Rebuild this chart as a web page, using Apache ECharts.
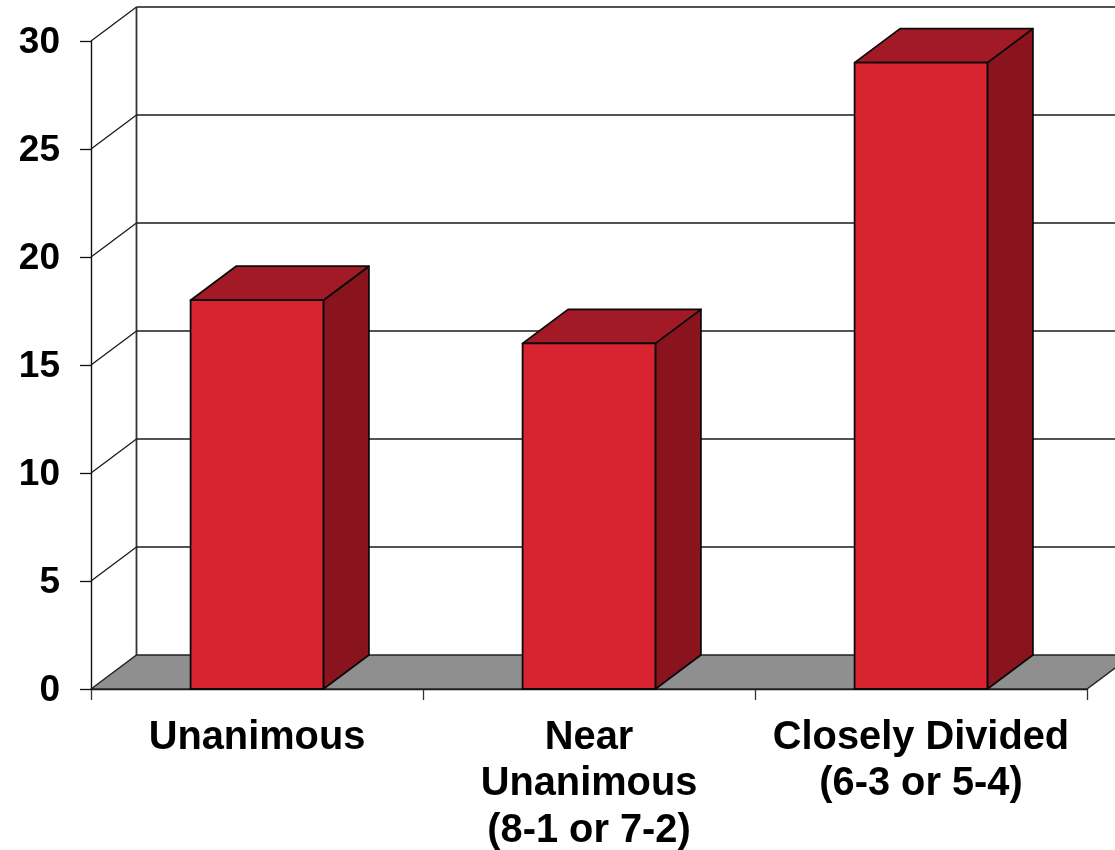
<!DOCTYPE html>
<html>
<head>
<meta charset="utf-8">
<style>
  html, body { margin: 0; padding: 0; background: #ffffff; }
  #chart { width: 1115px; height: 850px; }
</style>
<script src="https://cdn.jsdelivr.net/npm/echarts@6/dist/echarts.min.js"></script>
</head>
<body>
<div id="chart"></div>
<script>
// Supreme Court decisions by vote split
const categories = ['Unanimous', 'Near\nUnanimous\n(8-1 or 7-2)', 'Closely Divided\n(6-3 or 5-4)'];
const decisions = [18, 16, 29];
const wallLevels = [0, 5, 10, 15, 20, 25, 30];

// Offset of the back wall from the front plane of the box
const DEPTH_X = 45.5;
const DEPTH_Y = -34;
const BAR_SHARE = 0.4;
const INK = '#1a1a1a';
const LABEL_FONT = '"Liberation Sans", Arial, sans-serif';

const chart = echarts.init(document.getElementById('chart'), null, { renderer: 'canvas' });

const shift = (p, k) => [p[0] + DEPTH_X * k, p[1] + DEPTH_Y * k];
const face = (points, fill) => ({
  type: 'polygon',
  shape: { points },
  style: { fill, stroke: '#0a0a0a', lineWidth: 1.8, lineJoin: 'round' }
});
const rule = (a, b, stroke, lineWidth) => ({
  type: 'line',
  shape: { x1: a[0], y1: a[1], x2: b[0], y2: b[1] },
  style: { stroke, lineWidth }
});

// Side wall and back wall rules, one per value-axis level
function renderWall(params, api) {
  const level = api.value(0);
  const box = params.coordSys;
  const y = api.coord([0, level])[1];
  const front = [box.x, y];
  const back = shift(front, 1);
  const children = [];
  if (level > 0) {
    children.push(rule(front, back, INK, 1.3));
    children.push(rule(back, [box.x + box.width + DEPTH_X, back[1]], INK, 1.4));
  }
  return { type: 'group', children };
}

// Grey floor of the box and the rear left corner post
function renderFloor(params, api) {
  const box = params.coordSys;
  const y0 = api.coord([0, 0])[1];
  const yTop = api.coord([0, wallLevels[wallLevels.length - 1]])[1];
  const fl = [box.x, y0];
  const fr = [box.x + box.width, y0];
  return {
    type: 'group',
    children: [
      rule(shift([box.x, yTop], 1), shift(fl, 1), '#333333', 1.8),
      {
        type: 'polygon',
        shape: { points: [fl, shift(fl, 1), shift(fr, 1), fr] },
        style: { fill: '#8f8f8f', stroke: '#222222', lineWidth: 1.4 }
      }
    ]
  };
}

// Extruded bar: side, top, then front face
function renderBar(params, api) {
  const i = api.value(0);
  const top = api.coord([i, api.value(1)]);
  const bottom = api.coord([i, 0]);
  const half = api.size([1, 0])[0] * BAR_SHARE / 2;
  const tl = [top[0] - half, top[1]];
  const tr = [top[0] + half, top[1]];
  const br = [top[0] + half, bottom[1]];
  const bl = [top[0] - half, bottom[1]];
  return {
    type: 'group',
    children: [
      face([tr, shift(tr, 1), shift(br, 1), br], '#8a141e'),
      face([tl, shift(tl, 1), shift(tr, 1), tr], '#a21a25'),
      face([tl, tr, br, bl], '#d82330')
    ]
  };
}

chart.setOption({
  animation: false,
  backgroundColor: '#ffffff',
  grid: { left: 91, top: 41, width: 996, height: 648, containLabel: false, outerBoundsMode: 'none' },
  xAxis: {
    type: 'category',
    data: categories,
    boundaryGap: true,
    axisLine: { show: true, onZero: false, lineStyle: { color: '#111111', width: 1.3 } },
    axisTick: { show: true, length: 11, alignWithLabel: false, lineStyle: { color: '#333333', width: 1.3 } },
    axisLabel: {
      show: true,
      interval: 0,
      margin: 26,
      color: '#000000',
      fontFamily: LABEL_FONT,
      fontWeight: 'bold',
      fontSize: 39.8,
      lineHeight: 46.3
    },
    splitLine: { show: false }
  },
  yAxis: {
    type: 'value',
    min: 0,
    max: 30,
    interval: 5,
    axisLine: { show: true, lineStyle: { color: '#111111', width: 1.4 } },
    axisTick: { show: true, length: 11, lineStyle: { color: '#111111', width: 1.3 } },
    axisLabel: {
      show: true,
      margin: 31,
      formatter: '{tick|{value}}',
      rich: {
        tick: {
          color: '#000000',
          fontFamily: LABEL_FONT,
          fontWeight: 'bold',
          fontSize: 37,
          padding: [4, 0, 0, 0]
        }
      }
    },
    splitLine: { show: false }
  },
  series: [
    {
      type: 'custom',
      coordinateSystem: 'cartesian2d',
      renderItem: renderFloor,
      data: [[0]],
      encode: { x: 0 },
      silent: true,
      clip: false,
      z: 1
    },
    {
      type: 'custom',
      coordinateSystem: 'cartesian2d',
      renderItem: renderWall,
      data: wallLevels.map(v => [v]),
      encode: { y: 0 },
      silent: true,
      clip: false,
      z: 2
    },
    {
      type: 'custom',
      coordinateSystem: 'cartesian2d',
      renderItem: renderBar,
      data: decisions.map((v, i) => [i, v]),
      encode: { x: 0, y: 1 },
      silent: true,
      clip: false,
      z: 3
    }
  ]
});
</script>
</body>
</html>
